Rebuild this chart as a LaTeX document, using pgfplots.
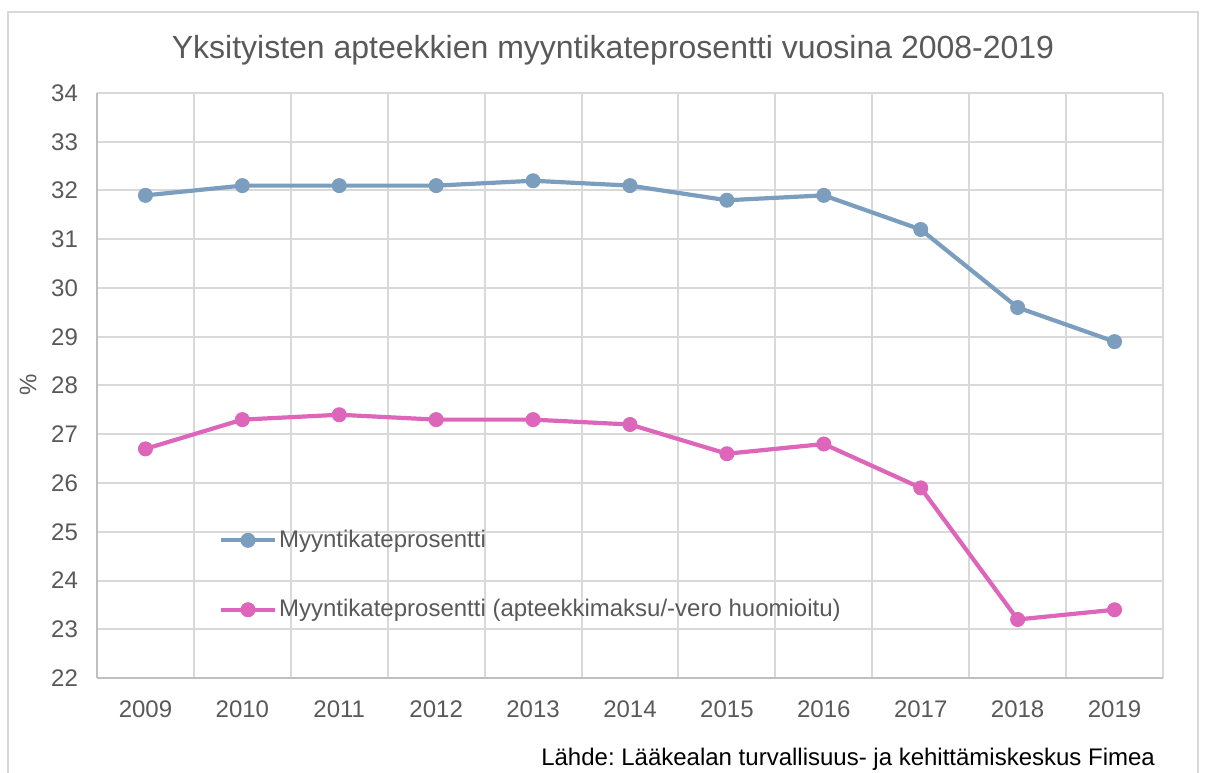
\documentclass[border=0pt]{standalone}
\usepackage{pgfplots}
\pgfplotsset{compat=1.18}
\usepackage{fontspec}
\setmainfont{Liberation Sans}
\frenchspacing
\definecolor{txt}{HTML}{595959}
\definecolor{gridc}{HTML}{D9D9D9}
\definecolor{axc}{HTML}{BFBFBF}
\definecolor{blueS}{HTML}{7B9DBE}
\definecolor{pinkS}{HTML}{DD66BB}
\definecolor{frame}{HTML}{D9D9D9}
\begin{document}
\begin{tikzpicture}
\useasboundingbox (0,0) rectangle (602.5pt,386pt);
\draw[frame,line width=0.75pt] (4pt,-2pt) -- (4pt,380pt) -- (599pt,380pt) -- (599pt,-2pt);
\node[txt,font=\fontsize{16}{19}\selectfont] at (306.5pt,361pt) {Yksityisten apteekkien myyntikateprosentti vuosina 2008-2019};
\node[txt,font=\fontsize{12}{14}\selectfont,rotate=90] at (14pt,193.5pt) {\%};
\node[black,font=\fontsize{12}{14}\selectfont,anchor=base east] at (581pt,3.5pt) {Lähde: Lääkealan turvallisuus- ja kehittämiskeskus Fimea};
\begin{axis}[
  at={(48.5pt,47pt)}, anchor=south west,
  scale only axis, width=533pt, height=292.5pt,
  xmin=-0.5, xmax=10.5, ymin=22, ymax=34,
  xtick={0,...,10},
  xticklabels={2009,2010,2011,2012,2013,2014,2015,2016,2017,2018,2019},
  minor xtick={-0.5,0.5,...,10.5},
  ytick={22,...,34},
  xmajorgrids=false, xminorgrids=true, ymajorgrids=true,
  grid style={gridc,line width=1pt},
  minor grid style={gridc,line width=1pt},
  axis x line*=bottom, axis y line*=left,
  axis line style={axc,line width=1pt,-},
  major tick length=0pt, minor tick length=0pt,
  tick style={draw=none},
  ticklabel style={txt,font=\fontsize{12}{14}\selectfont},
  /pgf/number format/assume math mode=true,
  yticklabel style={xshift=-6pt},
  xticklabel style={yshift=-8pt},
  clip=false,
  legend style={at={(rel axis cs:0.114,0.176)}, anchor=west, draw=none, fill=none,
    inner sep=0pt, row sep=22.5pt,
    font=\fontsize{12}{14}\selectfont, text=txt,
    nodes={inner sep=1pt}},
  legend cell align=left,
  legend image code/.code={\draw[mark repeat=2,mark phase=2,#1] plot coordinates {(0pt,0pt) (13.5pt,0pt) (27pt,0pt)};},
]
\addplot[blueS, line width=2.1pt, mark=*, mark size=3.45pt, mark options={fill=blueS,draw=blueS,line width=0.6pt}]
 coordinates {(0,31.9)(1,32.1)(2,32.1)(3,32.1)(4,32.2)(5,32.1)(6,31.8)(7,31.9)(8,31.2)(9,29.6)(10,28.9)};
\addlegendentry{Myyntikateprosentti}
\addplot[pinkS, line width=2.1pt, mark=*, mark size=3.45pt, mark options={fill=pinkS,draw=pinkS,line width=0.6pt}]
 coordinates {(0,26.7)(1,27.3)(2,27.4)(3,27.3)(4,27.3)(5,27.2)(6,26.6)(7,26.8)(8,25.9)(9,23.2)(10,23.4)};
\addlegendentry{Myyntikateprosentti (apteekkimaksu/-vero huomioitu)}
\end{axis}
\end{tikzpicture}
\end{document}
